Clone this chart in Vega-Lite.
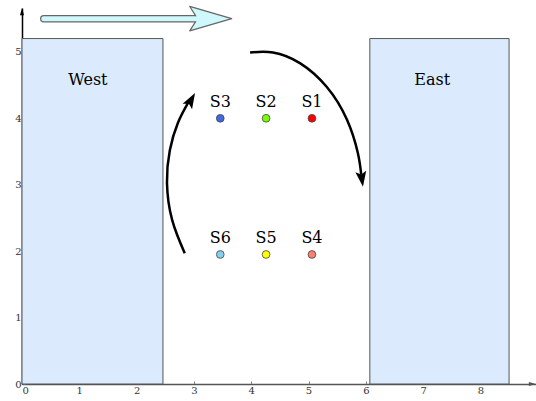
{
  "$schema": "https://vega.github.io/schema/vega-lite/v6.json",
  "width": 514,
  "height": 376,
  "autosize": {"type": "none"},
  "padding": {"left": 22, "top": 8, "right": 0, "bottom": 17},
  "background": "white",
  "config": {
    "view": {"stroke": null},
    "font": "DejaVu Serif",
    "axis": {
      "grid": false,
      "title": null,
      "labelFont": "DejaVu Serif",
      "labelFontSize": 10,
      "labelColor": "#333",
      "tickColor": "#888",
      "tickSize": -3,
      "labelPadding": 4,
      "format": "d"
    }
  },
  "datasets": {
    "regions": [
      {"name": "West", "x0": 0, "x1": 2.46, "y0": 0, "y1": 5.2, "lx": 1.15, "ly": 4.5},
      {"name": "East", "x0": 6.07, "x1": 8.5, "y0": 0, "y1": 5.2, "lx": 7.16, "ly": 4.5}
    ],
    "stations": [
      {"name": "S1", "x": 5.06, "y": 4.0},
      {"name": "S2", "x": 4.26, "y": 4.0},
      {"name": "S3", "x": 3.46, "y": 4.0},
      {"name": "S4", "x": 5.06, "y": 1.95},
      {"name": "S5", "x": 4.26, "y": 1.95},
      {"name": "S6", "x": 3.46, "y": 1.95}
    ],
    "curves": [
      {"arrow": "up", "order": 1, "x": 2.84, "y": 1.97},
      {"arrow": "up", "order": 2, "x": 2.62, "y": 2.47},
      {"arrow": "up", "order": 3, "x": 2.53, "y": 3.03},
      {"arrow": "up", "order": 4, "x": 2.58, "y": 3.52},
      {"arrow": "up", "order": 5, "x": 2.72, "y": 3.93},
      {"arrow": "up", "order": 6, "x": 2.91, "y": 4.25},
      {"arrow": "down", "order": 1, "x": 3.98, "y": 4.99},
      {"arrow": "down", "order": 2, "x": 4.38, "y": 4.99},
      {"arrow": "down", "order": 3, "x": 4.85, "y": 4.83},
      {"arrow": "down", "order": 4, "x": 5.32, "y": 4.47},
      {"arrow": "down", "order": 5, "x": 5.67, "y": 3.98},
      {"arrow": "down", "order": 6, "x": 5.86, "y": 3.48},
      {"arrow": "down", "order": 7, "x": 5.92, "y": 3.15}
    ],
    "shaft": [
      {"x": 0.38, "y": 5.5},
      {"x": 3.02, "y": 5.5}
    ]
  },
  "layer": [
    {
      "data": {"name": "regions"},
      "mark": {"type": "rect", "fill": "#dbeafd", "stroke": "#555", "strokeWidth": 1},
      "encoding": {
        "x": {"field": "x0", "type": "quantitative", "scale": {"domain": [0, 8.97], "nice": false, "zero": false},
          "axis": {"values": [0, 1, 2, 3, 4, 5, 6, 7, 8], "domainColor": "#555", "domainWidth": 1.5}},
        "x2": {"field": "x1"},
        "y": {"field": "y0", "type": "quantitative", "scale": {"domain": [0, 5.66], "nice": false, "zero": false},
          "axis": {"values": [0, 1, 2, 3, 4, 5], "domainColor": "black", "domainWidth": 1.5}},
        "y2": {"field": "y1"}
      }
    },
    {
      "data": {"name": "regions"},
      "mark": {"type": "text", "fontSize": 16, "align": "center", "baseline": "alphabetic", "color": "black"},
      "encoding": {
        "x": {"field": "lx", "type": "quantitative"},
        "y": {"field": "ly", "type": "quantitative"},
        "text": {"field": "name"}
      }
    },
    {
      "data": {"name": "shaft"},
      "mark": {"type": "line", "stroke": "#666", "strokeWidth": 7.5, "strokeCap": "round"},
      "encoding": {
        "x": {"field": "x", "type": "quantitative"},
        "y": {"field": "y", "type": "quantitative"}
      }
    },
    {
      "data": {"values": [{"x": 3.66, "y": 5.5}]},
      "mark": {"type": "point", "shape": "M0,0 L-2,-0.58 L-1.72,-0.14 L-1.72,0.14 L-2,0.58 Z", "size": 1764, "filled": true, "fill": "#cff8fc", "fillOpacity": 1, "stroke": "#666", "strokeWidth": 1.2, "strokeJoin": "round", "opacity": 1},
      "encoding": {
        "x": {"field": "x", "type": "quantitative"},
        "y": {"field": "y", "type": "quantitative"}
      }
    },
    {
      "data": {"name": "shaft"},
      "mark": {"type": "line", "stroke": "#cff8fc", "strokeWidth": 5, "strokeCap": "round"},
      "encoding": {
        "x": {"field": "x", "type": "quantitative"},
        "y": {"field": "y", "type": "quantitative"}
      }
    },
    {
      "data": {"name": "curves"},
      "mark": {"type": "line", "stroke": "black", "strokeWidth": 2.5, "interpolate": "natural"},
      "encoding": {
        "x": {"field": "x", "type": "quantitative"},
        "y": {"field": "y", "type": "quantitative"},
        "detail": {"field": "arrow"},
        "order": {"field": "order"}
      }
    },
    {
      "data": {"values": [{"x": 3.02, "y": 4.38}]},
      "mark": {"type": "point", "shape": "M0,0 L0.6,1.7 L0,1.35 L-0.6,1.7 Z", "size": 330, "filled": true, "fill": "black", "opacity": 1, "angle": 30},
      "encoding": {
        "x": {"field": "x", "type": "quantitative"},
        "y": {"field": "y", "type": "quantitative"}
      }
    },
    {
      "data": {"values": [{"x": 5.95, "y": 2.97}]},
      "mark": {"type": "point", "shape": "M0,0 L0.6,1.7 L0,1.35 L-0.6,1.7 Z", "size": 330, "filled": true, "fill": "black", "opacity": 1, "angle": 172},
      "encoding": {
        "x": {"field": "x", "type": "quantitative"},
        "y": {"field": "y", "type": "quantitative"}
      }
    },
    {
      "data": {"name": "stations"},
      "mark": {"type": "point", "filled": true, "size": 60, "stroke": "#444", "strokeWidth": 0.8, "opacity": 1},
      "encoding": {
        "x": {"field": "x", "type": "quantitative"},
        "y": {"field": "y", "type": "quantitative"},
        "color": {"field": "name", "type": "nominal", "legend": null,
          "scale": {"domain": ["S1", "S2", "S3", "S4", "S5", "S6"], "range": ["#ff0000", "#7cfc00", "#4169e1", "#fa8072", "#ffff00", "#87ceeb"]}}
      }
    },
    {
      "data": {"name": "stations"},
      "mark": {"type": "text", "fontSize": 16, "align": "center", "baseline": "alphabetic", "dy": -11, "color": "black"},
      "encoding": {
        "x": {"field": "x", "type": "quantitative"},
        "y": {"field": "y", "type": "quantitative"},
        "text": {"field": "name"}
      }
    },
    {
      "data": {"values": [{"x": 0, "y": 5.66}]},
      "mark": {"type": "point", "shape": "M0,0 L0.45,1.6 L-0.45,1.6 Z", "size": 80, "filled": true, "fill": "black", "opacity": 1},
      "encoding": {
        "x": {"field": "x", "type": "quantitative"},
        "y": {"field": "y", "type": "quantitative"}
      }
    },
    {
      "data": {"values": [{"x": 8.97, "y": 0}]},
      "mark": {"type": "point", "shape": "M0,0 L-1.6,0.45 L-1.6,-0.45 Z", "size": 80, "filled": true, "fill": "#555", "opacity": 1},
      "encoding": {
        "x": {"field": "x", "type": "quantitative"},
        "y": {"field": "y", "type": "quantitative"}
      }
    }
  ]
}
